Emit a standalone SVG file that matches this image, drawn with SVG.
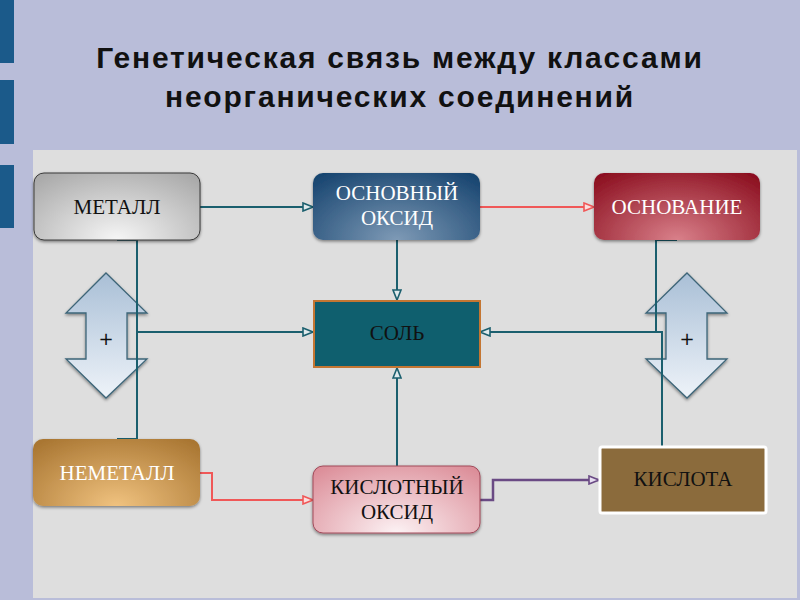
<svg xmlns="http://www.w3.org/2000/svg" width="800" height="600" viewBox="0 0 800 600">
<defs>
<style>
.title{font-family:"Liberation Sans",Arial,sans-serif;font-weight:bold;font-size:30px;fill:#111;text-anchor:middle;letter-spacing:1.8px}
.lbl{font-family:"Liberation Serif","Times New Roman",serif;font-size:21px;text-anchor:middle}
.w{fill:#fff}
.k{fill:#111}
.box{filter:url(#sh)}
.c{fill:none;stroke:#1b5f6e;stroke-width:2}
.red{fill:none;stroke:#f05858;stroke-width:2}
.pur{fill:none;stroke:#6a4a84;stroke-width:2.5}
.dbl{fill:url(#gArr);stroke:#3d6578;stroke-width:1.3;filter:url(#sh)}
.plus{font-family:"DejaVu Sans",sans-serif;font-size:18px;fill:#111;text-anchor:middle}
</style>
<filter id="sh" x="-10%" y="-10%" width="120%" height="130%">
<feDropShadow dx="0" dy="1.5" stdDeviation="1.5" flood-color="#000" flood-opacity="0.45"/>
</filter>
<radialGradient id="gMet" cx="0.5" cy="1" r="0.75" gradientTransform="translate(0.5 1) scale(1 1.6) translate(-0.5 -1)">
<stop offset="0" stop-color="#f6f6f6"/><stop offset="1" stop-color="#a9a9a9"/></radialGradient>
<radialGradient id="gOx" cx="0.5" cy="1" r="0.75" gradientTransform="translate(0.5 1) scale(1 1.6) translate(-0.5 -1)">
<stop offset="0" stop-color="#7e9ab6"/><stop offset="1" stop-color="#184570"/></radialGradient>
<radialGradient id="gBase" cx="0.5" cy="1" r="0.75" gradientTransform="translate(0.5 1) scale(1 1.6) translate(-0.5 -1)">
<stop offset="0" stop-color="#d9808a"/><stop offset="1" stop-color="#8c1020"/></radialGradient>
<radialGradient id="gNon" cx="0.5" cy="1" r="0.75" gradientTransform="translate(0.5 1) scale(1 1.6) translate(-0.5 -1)">
<stop offset="0" stop-color="#f0c27f"/><stop offset="1" stop-color="#a97632"/></radialGradient>
<radialGradient id="gAox" cx="0.5" cy="1" r="0.75" gradientTransform="translate(0.5 1) scale(1 1.6) translate(-0.5 -1)">
<stop offset="0" stop-color="#fcf2f4"/><stop offset="1" stop-color="#dc8e99"/></radialGradient>
<linearGradient id="gArr" x1="0" y1="0" x2="0" y2="1">
<stop offset="0" stop-color="#a9bfd6"/><stop offset="1" stop-color="#eef3f9"/></linearGradient>
<marker id="aT" viewBox="0 0 12 10" refX="11" refY="5" markerWidth="12" markerHeight="10" markerUnits="userSpaceOnUse" orient="auto">
<path d="M1,1 L11,5 L1,9 Z" fill="#dfe9ec" stroke="#1b5f6e" stroke-width="1.6"/></marker>
<marker id="aR" viewBox="0 0 12 10" refX="11" refY="5" markerWidth="12" markerHeight="10" markerUnits="userSpaceOnUse" orient="auto">
<path d="M1,1 L11,5 L1,9 Z" fill="#fbdede" stroke="#f05858" stroke-width="1.6"/></marker>
<marker id="aP" viewBox="0 0 12 10" refX="11" refY="5" markerWidth="12" markerHeight="10" markerUnits="userSpaceOnUse" orient="auto">
<path d="M1,1 L11,5 L1,9 Z" fill="#e6def0" stroke="#6a4a84" stroke-width="1.6"/></marker>
</defs>

<rect x="0" y="0" width="800" height="600" fill="#b9bdd9"/>
<rect x="0" y="0" width="14" height="63" fill="#1b5a8a"/>
<rect x="0" y="80" width="14" height="64" fill="#1b5a8a"/>
<rect x="0" y="165" width="14" height="63" fill="#1b5a8a"/>
<rect x="33" y="150" width="764" height="448" fill="#dedede"/>

<text class="title" x="400" y="68">Генетическая связь между классами</text>
<text class="title" x="400" y="107">неорганических соединений</text>

<g id="arrow-left"><path class="dbl" d="M106,273 L147,313 L127,313 L127,359 L147,359 L106,398 L66,359 L86,359 L86,313 L66,313 Z"/><text class="plus" x="106" y="345">+</text></g>
<g id="arrow-right"><path class="dbl" d="M687,273 L727,313 L707,313 L707,359 L727,359 L687,398 L646,359 L666,359 L666,313 L646,313 Z"/><text class="plus" x="687" y="345">+</text></g>

<g id="connectors">
<path class="c" d="M200,207 H313" marker-end="url(#aT)"/>
<path class="red" d="M480,207 H594" marker-end="url(#aR)"/>
<path class="c" d="M397,240 V300" marker-end="url(#aT)"/>
<path class="c" d="M117,240 H137 V439 H117"/>
<path class="c" d="M137,332 H313" marker-end="url(#aT)"/>
<path class="c" d="M677,240 H656 V332 H480" marker-end="url(#aT)"/>
<path class="c" d="M662,446 V332 H656"/>
<path class="c" d="M397,466 V368" marker-end="url(#aT)"/>
<path class="red" d="M200,473 H212 V500 H313" marker-end="url(#aR)"/>
<path class="pur" d="M480,500 H493 V480 H599" marker-end="url(#aP)"/>
</g>

<g id="metal"><rect class="box" x="34" y="173" width="166" height="67" rx="10" fill="url(#gMet)" stroke="#3a3a3a" stroke-width="1"/><text class="lbl k" x="117" y="214">МЕТАЛЛ</text></g>
<g id="basic-oxide"><rect class="box" x="313" y="173" width="167" height="67" rx="10" fill="url(#gOx)"/><text class="lbl w" x="397" y="200">ОСНОВНЫЙ</text><text class="lbl w" x="397" y="225">ОКСИД</text></g>
<g id="base"><rect class="box" x="594" y="173" width="166" height="67" rx="10" fill="url(#gBase)"/><text class="lbl w" x="677" y="214">ОСНОВАНИЕ</text></g>
<g id="salt"><rect x="314" y="301" width="166" height="66" fill="#0f5f6e" stroke="#c47632" stroke-width="2"/><text class="lbl k" x="397" y="340">СОЛЬ</text></g>
<g id="nonmetal"><rect class="box" x="33" y="439" width="167" height="67" rx="10" fill="url(#gNon)"/><text class="lbl w" x="117" y="480">НЕМЕТАЛЛ</text></g>
<g id="acid-oxide"><rect class="box" x="313" y="466" width="167" height="67" rx="10" fill="url(#gAox)" stroke="#a24a5a" stroke-width="1"/><text class="lbl k" x="397" y="494">КИСЛОТНЫЙ</text><text class="lbl k" x="397" y="519">ОКСИД</text></g>
<g id="acid"><rect x="600" y="447" width="166" height="66" fill="#8b6b3c" stroke="#ffffff" stroke-width="3" rx="2"/><text class="lbl k" x="683" y="486">КИСЛОТА</text></g>
</svg>
